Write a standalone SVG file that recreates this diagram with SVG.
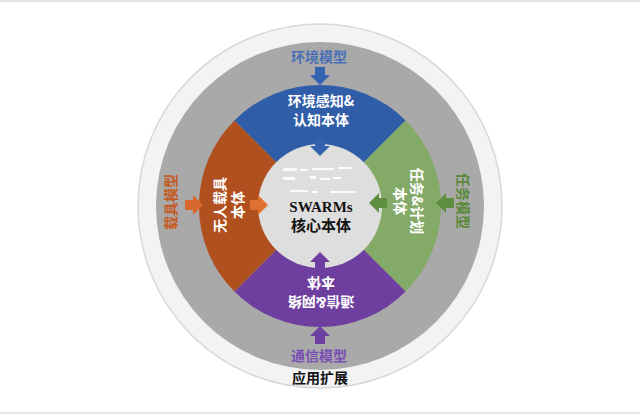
<svg xmlns="http://www.w3.org/2000/svg" width="640" height="414" viewBox="0 0 640 414">
<style>
.t{font-family:"Noto Sans CJK SC","Liberation Sans",sans-serif;font-weight:bold;font-size:14px;text-anchor:middle}
.w{fill:#ffffff}
.core{font-family:"Liberation Serif","Noto Sans CJK SC",serif;font-weight:bold;font-size:15px;text-anchor:middle;fill:#111111}
.dash{fill:#ffffff;opacity:0.85}
</style>
<defs>
<path id="arr" d="M-5,-18 H5 V-10 H10 L0,0 L-10,-10 H-5 Z"/>
</defs>
<rect x="0" y="0" width="640" height="414" fill="#ffffff"/>
<line x1="0" y1="1" x2="640" y2="1" stroke="#e4e4e4" stroke-width="2"/>
<line x1="0" y1="413" x2="640" y2="413" stroke="#e4e4e4" stroke-width="2"/>
<g id="outer-ring">
<circle cx="320" cy="206" r="182" fill="#f3f3f3" stroke="#d8d8d8" stroke-width="1.5"/>
</g>
<g id="model-ring">
<circle cx="320" cy="206" r="164" fill="#a9a9a9"/>
</g>
<g id="sector-env">
<path d="M320,206 L234.4,120.4 A121,121 0 0 1 405.6,120.4 Z" fill="#2f5da8"/>
<text class="t w" x="321" y="106">环境感知&amp;</text>
<text class="t w" x="321" y="125">认知本体</text>
</g>
<g id="sector-task">
<path d="M320,206 L405.6,120.4 A121,121 0 0 1 405.6,291.6 Z" fill="#84aa68"/>
<g transform="translate(412,201) rotate(90)">
<text class="t w" x="0" y="0">任务&amp;计划</text>
<text class="t w" x="0" y="17">本体</text>
</g>
</g>
<g id="sector-comm">
<path d="M320,206 L405.6,291.6 A121,121 0 0 1 234.4,291.6 Z" fill="#6f3fa0"/>
<g transform="translate(321,297) rotate(180)">
<text class="t w" x="0" y="0">通信&amp;网络</text>
<text class="t w" x="0" y="19">本体</text>
</g>
</g>
<g id="sector-vehicle">
<path d="M320,206 L234.4,291.6 A121,121 0 0 1 234.4,120.4 Z" fill="#b0501f"/>
<g transform="translate(225,205) rotate(-90)">
<text class="t w" x="0" y="0">无人载具</text>
<text class="t w" x="0" y="18">本体</text>
</g>
</g>
<g id="core">
<circle cx="320" cy="206" r="62" fill="#dedede"/>
<rect class="dash" x="283" y="168" width="14" height="3"/>
<rect class="dash" x="300" y="169" width="8" height="2"/>
<rect class="dash" x="312" y="168" width="22" height="2"/>
<rect class="dash" x="338" y="167" width="14" height="2"/>
<rect class="dash" x="283" y="177" width="12" height="3"/>
<rect class="dash" x="310" y="176" width="6" height="3"/>
<rect class="dash" x="320" y="178" width="10" height="2"/>
<rect class="dash" x="333" y="177" width="8" height="2"/>
<rect class="dash" x="290" y="190" width="18" height="2"/>
<rect class="dash" x="312" y="191" width="6" height="2"/>
<rect class="dash" x="330" y="191" width="26" height="2"/>
<text class="core" x="321" y="212">SWARMs</text>
<text class="core" x="321" y="231">核心本体</text>
</g>
<g id="model-env">
<text class="t" x="319" y="62" fill="#4a70b6">环境模型</text>
</g>
<g id="model-task">
<text class="t" transform="translate(458,201) rotate(90)" x="0" y="0" fill="#5a8a3a">任务模型</text>
</g>
<g id="model-comm">
<text class="t" x="319" y="361" fill="#7a4eb2">通信模型</text>
</g>
<g id="model-vehicle">
<text class="t" transform="translate(176,202) rotate(-90)" x="0" y="0" fill="#c55a22">载具模型</text>
</g>
<g id="app-ext">
<text class="t" x="320" y="383" fill="#111111">应用扩展</text>
</g>
<g id="connectors">
<use href="#arr" transform="translate(320,85)" fill="#3563b0"/>
<use href="#arr" transform="translate(320,156)" fill="#3563b0"/>
<use href="#arr" transform="translate(203,205) rotate(-90)" fill="#d8682c"/>
<use href="#arr" transform="translate(268,205) rotate(-90)" fill="#e0702f"/>
<use href="#arr" transform="translate(436,203) rotate(90)" fill="#5e8f40"/>
<use href="#arr" transform="translate(369,203) rotate(90)" fill="#5e8f40"/>
<use href="#arr" transform="translate(320,326) rotate(180)" fill="#6f3fa0"/>
<use href="#arr" transform="translate(320,252) rotate(180)" fill="#6f3fa0"/>
</g>
</svg>
